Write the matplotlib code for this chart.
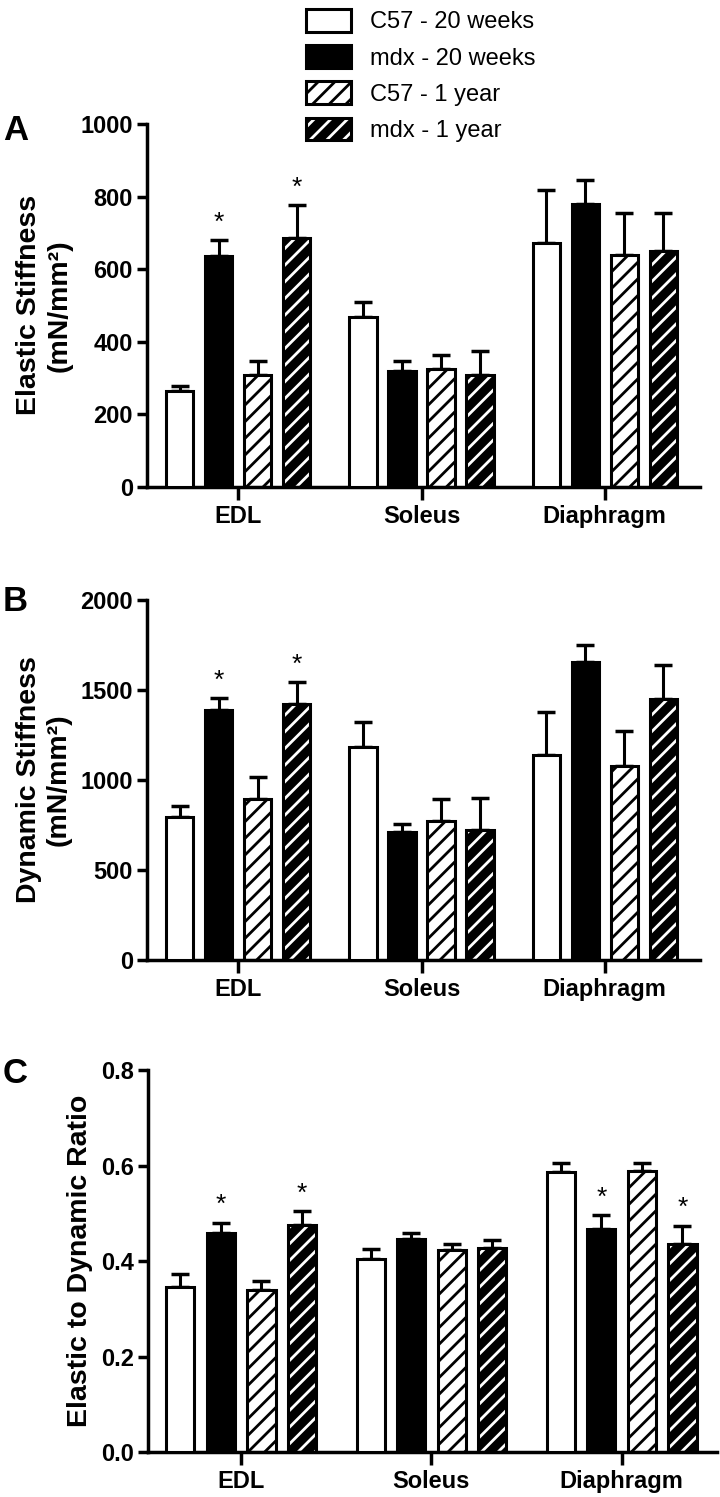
import numpy as np
import matplotlib.pyplot as plt
from matplotlib.patches import Patch

wide = ['Liberation Sans', 'DejaVu Sans']
plt.rcParams['font.family'] = wide
plt.rcParams['hatch.linewidth'] = 2.0

muscles = ['EDL', 'Soleus', 'Diaphragm']
groups = ['C57 - 20 weeks', 'mdx - 20 weeks', 'C57 - 1 year', 'mdx - 1 year']

# rows: groups, columns: muscles
elastic = [[265, 469, 672], [636, 319, 780], [307, 325, 639], [687, 307, 650]]
elastic_err = [[12, 41, 146], [44, 27, 65], [39, 39, 116], [90, 68, 105]]

dynamic = [[795, 1183, 1140], [1390, 708, 1658], [896, 773, 1076], [1423, 721, 1453]]
dynamic_err = [[61, 139, 237], [65, 46, 94], [121, 123, 196], [120, 181, 187]]

ratio = [[0.347, 0.405, 0.586], [0.459, 0.447, 0.468], [0.340, 0.424, 0.589], [0.475, 0.428, 0.437]]
ratio_err = [[0.027, 0.021, 0.020], [0.022, 0.012, 0.028], [0.018, 0.013, 0.017], [0.030, 0.016, 0.037]]

# asterisks: (group, muscle)
stars_a = [(1, 0), (3, 0)]
stars_b = [(1, 0), (3, 0)]
stars_c = [(1, 0), (3, 0), (1, 2), (3, 2)]

face = ['white', 'black', 'white', 'black']
hatch_col = [None, None, 'black', 'white']


def draw_panel(ax, vals, errs, stars, ylim, yticks, ylabel, tickfmt):
    x = np.arange(len(muscles))
    w = 0.148
    step = 0.213
    for i in range(4):
        pos = x + (i - 1.5) * step
        v = np.array(vals[i])
        e = np.array(errs[i])
        ax.errorbar(pos, v, yerr=[np.zeros_like(e), e], fmt='none', ecolor='black',
                    elinewidth=2.2, capsize=6.5, capthick=2.5, zorder=1)
        if hatch_col[i] is not None:
            ax.bar(pos, v, w, color=face[i], edgecolor=hatch_col[i], hatch='//',
                   linewidth=0, zorder=2)
            ax.bar(pos, v, w, fill=False, edgecolor='black', linewidth=2.2, zorder=3)
        else:
            ax.bar(pos, v, w, color=face[i], edgecolor='black', linewidth=2.2, zorder=3)
    for g, m in stars:
        top = vals[g][m] + errs[g][m]
        ax.annotate('*', (x[m] + (g - 1.5) * step, top), xytext=(0, 4),
                    textcoords='offset points', ha='center', va='bottom',
                    fontsize=19)
    ax.set_ylim(*ylim)
    ax.set_yticks(yticks)
    ax.set_yticklabels([tickfmt(t) for t in yticks], fontsize=17, fontweight='bold')
    ax.set_xticks(x)
    ax.set_xticklabels(muscles, fontsize=17, fontweight='bold')
    ax.set_xlim(-0.5, 2.52)
    for s in ['top', 'right']:
        ax.spines[s].set_visible(False)
    for s in ['left', 'bottom']:
        ax.spines[s].set_linewidth(2.5)
    ax.tick_params(axis='both', width=2.5, length=7, pad=3)
    ax.tick_params(axis='x', length=9, pad=4)
    ax.set_ylabel(ylabel, fontsize=20.5, fontweight='bold', labelpad=6)


fig = plt.figure(figsize=(7.2, 14.97), dpi=100)
ax_a = fig.add_axes([0.204, 0.675, 0.768, 0.242])
ax_b = fig.add_axes([0.204, 0.359, 0.768, 0.240])
ax_c = fig.add_axes([0.2055, 0.030, 0.79, 0.255])

draw_panel(ax_a, elastic, elastic_err, stars_a, (0, 1000), [0, 200, 400, 600, 800, 1000],
           'Elastic Stiffness\n(mN/mm²)', lambda t: f'{t:d}')
draw_panel(ax_b, dynamic, dynamic_err, stars_b, (0, 2000), [0, 500, 1000, 1500, 2000],
           'Dynamic Stiffness\n(mN/mm²)', lambda t: f'{t:d}')
draw_panel(ax_c, ratio, ratio_err, stars_c, (0, 0.8), [0.0, 0.2, 0.4, 0.6, 0.8],
           'Elastic to Dynamic Ratio', lambda t: f'{t:.1f}')
ax_c.set_xlim(-0.49, 2.5)

for lbl, yy in [('A', 0.913), ('B', 0.598), ('C', 0.283)]:
    fig.text(0.004, yy, lbl, fontsize=25, fontweight='bold', va='center')

handles = []
for i in range(4):
    if hatch_col[i] is not None:
        h = (Patch(facecolor=face[i], edgecolor=hatch_col[i], hatch='//', linewidth=0),
             Patch(fill=False, edgecolor='black', linewidth=2.2))
    else:
        h = Patch(facecolor=face[i], edgecolor='black', linewidth=2.2)
    handles.append(h)
fig.legend(handles, groups, loc='upper left', bbox_to_anchor=(0.402, 1.005),
           frameon=False, fontsize=17, handlelength=1.9, handleheight=1.1,
           labelspacing=0.5, handletextpad=0.8, borderpad=0.2)

fig.savefig('out.png', dpi=100)
